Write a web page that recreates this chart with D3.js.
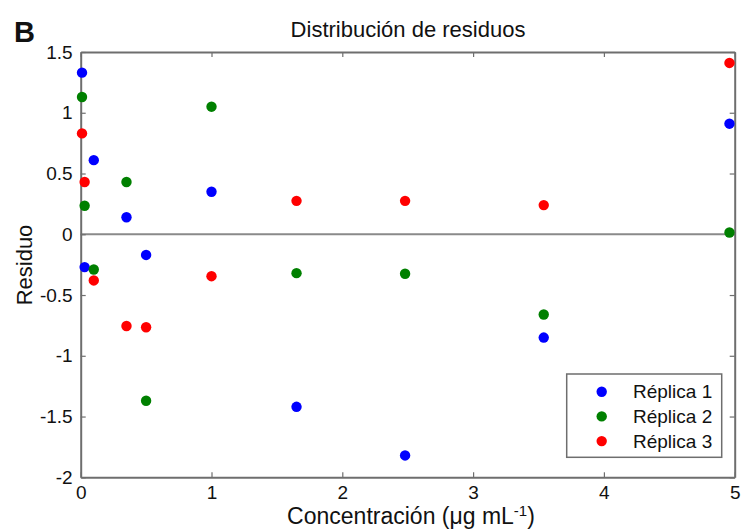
<!DOCTYPE html>
<html><head><meta charset="utf-8">
<script src="https://cdn.jsdelivr.net/npm/d3@7"></script>
<style>
html,body{margin:0;padding:0;background:#fff;}
text{font-family:"Liberation Sans",Arial,Helvetica,sans-serif;fill:#111;}
</style></head>
<body><svg id="c" width="742" height="531"></svg>
<script>
const concentrations = [0.01, 0.03, 0.1, 0.35, 0.5, 1.0, 1.65, 2.48, 3.54, 4.96];
const replica1 = [1.33, -0.27, 0.61, 0.14, -0.17, 0.35, -1.42, -1.82, -0.85, 0.91];
const replica2 = [1.13, 0.235, -0.29, 0.43, -1.37, 1.05, -0.32, -0.325, -0.66, 0.015];
const replica3 = [0.83, 0.43, -0.38, -0.755, -0.765, -0.345, 0.275, 0.275, 0.24, 1.41];
const seriesNames = ["Réplica 1", "Réplica 2", "Réplica 3"];
const seriesColors = ["#0000ff", "#008000", "#ff0000"];
const xTicks = [0, 1, 2, 3, 4, 5];
const yTicks = [-2, -1.5, -1, -0.5, 0, 0.5, 1, 1.5];

const svg = d3.select("#c");
const L = 80.7, R = 734.7, T = 52, B = 477.3;
const x = d3.scaleLinear().domain([0, 5]).range([L, R]);
const y = d3.scaleLinear().domain([-2, 1.5]).range([B, T]);
const axisColor = "#6e6e6e";

// zero line
svg.append("line").attr("x1", L).attr("x2", R).attr("y1", y(0)).attr("y2", y(0))
  .attr("stroke", "#8a8a8a").attr("stroke-width", 2);

// axes
const fmt = d => (d === 0 ? "0" : String(d));
const gx = svg.append("g").attr("transform", `translate(0,${B})`)
  .call(d3.axisBottom(x).tickValues(xTicks).tickFormat(fmt).tickSizeInner(-5).tickSizeOuter(0).tickPadding(8));
const gy = svg.append("g").attr("transform", `translate(${L},0)`)
  .call(d3.axisLeft(y).tickValues(yTicks).tickFormat(fmt).tickSizeInner(-5).tickSizeOuter(0).tickPadding(8));
const gxt = svg.append("g").attr("transform", `translate(0,${T})`)
  .call(d3.axisTop(x).tickValues(xTicks).tickFormat("").tickSizeInner(-5).tickSizeOuter(0));
const gyr = svg.append("g").attr("transform", `translate(${R},0)`)
  .call(d3.axisRight(y).tickValues(yTicks).tickFormat("").tickSizeInner(-5).tickSizeOuter(0));
[gx, gy, gxt, gyr].forEach(g => {
  g.select(".domain").attr("stroke", axisColor).attr("stroke-width", 2);
  g.selectAll(".tick line").attr("stroke", axisColor).attr("stroke-width", 1.2);
  g.selectAll(".tick text").style("font-size", "19px").attr("fill", "#111")
    .style("font-family", '"Liberation Sans",Arial,sans-serif');
});
gx.selectAll(".tick text").attr("dy", "0.71em");

// points
const seriesData = [replica1, replica2, replica3];
seriesData.forEach((vals, i) => {
  svg.append("g").selectAll("circle").data(vals).join("circle")
    .attr("cx", (d, j) => x(concentrations[j]))
    .attr("cy", d => y(d))
    .attr("r", 5.2)
    .attr("fill", seriesColors[i]);
});

// title
svg.append("text").attr("x", 408).attr("y", 37).attr("text-anchor", "middle")
  .style("font-size", "22px").text("Distribución de residuos");
// panel letter
svg.append("text").attr("x", 14).attr("y", 42).style("font-size", "29px").style("font-weight", "bold").text("B");

// axis labels
const xl = svg.append("text").attr("x", 411).attr("y", 524).attr("text-anchor", "middle").style("font-size", "23px");
xl.append("tspan").text("Concentración (μg mL");
xl.append("tspan").attr("dy", -8).style("font-size", "15px").text("-1");
xl.append("tspan").attr("dy", 8).text(")");
svg.append("text").attr("transform", "translate(32,265) rotate(-90)").attr("text-anchor", "middle")
  .style("font-size", "22px").text("Residuo");

// legend
const lg = svg.append("g");
lg.append("rect").attr("x", 566.7).attr("y", 374).attr("width", 155).attr("height", 83.3)
  .attr("fill", "#fff").attr("stroke", axisColor).attr("stroke-width", 1.5);
seriesNames.forEach((n, i) => {
  const cy = 391.7 + i * 24.7;
  lg.append("circle").attr("cx", 601.7).attr("cy", cy).attr("r", 5.2).attr("fill", seriesColors[i]);
  lg.append("text").attr("x", 633).attr("y", cy).attr("dy", "0.35em").style("font-size", "19px").text(n);
});
</script></body></html>
